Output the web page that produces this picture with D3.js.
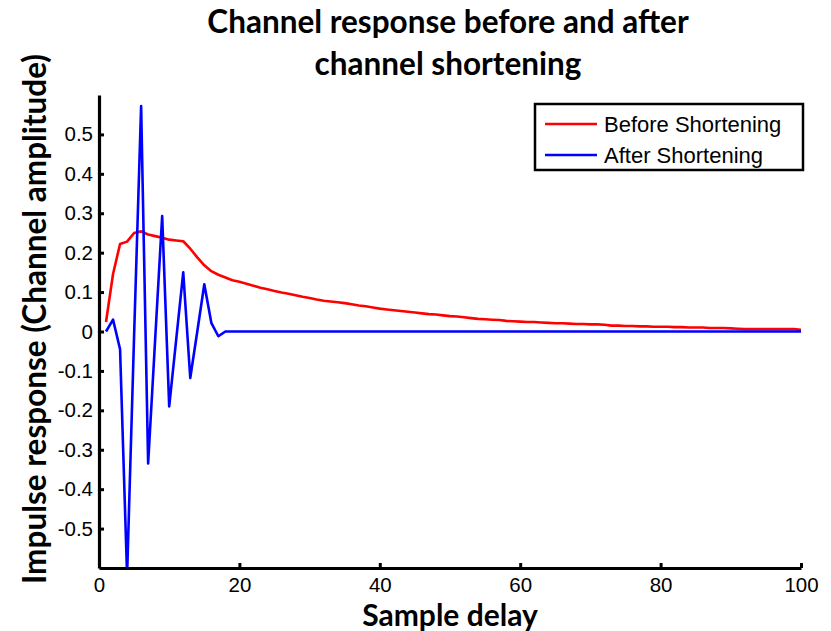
<!DOCTYPE html>
<html>
<head>
<meta charset="utf-8">
<script src="https://cdn.jsdelivr.net/npm/d3@7"></script>
<style>
  body { margin: 0; background: #fff; }
  svg { display: block; }
</style>
</head>
<body>
<div id="chart"></div>
<script>
// sample delays 1..100
const delays = d3.range(1, 101);

// before shortening
const before = [
  0.024, 0.146, 0.222, 0.228, 0.250, 0.254, 0.246, 0.242, 0.238, 0.233,
  0.231, 0.229, 0.210, 0.188, 0.168, 0.153, 0.144, 0.137, 0.130, 0.126,
  0.121, 0.116, 0.111, 0.107, 0.103, 0.099, 0.096, 0.092, 0.088, 0.085,
  0.081, 0.078, 0.076, 0.074, 0.072, 0.069, 0.066, 0.064, 0.061, 0.058,
  0.056, 0.054, 0.052, 0.050, 0.048, 0.046, 0.044, 0.043, 0.041, 0.039,
  0.038, 0.036, 0.034, 0.032, 0.031, 0.030, 0.029, 0.027, 0.026, 0.025,
  0.024, 0.024, 0.023, 0.022, 0.021, 0.021, 0.020, 0.019, 0.019, 0.018,
  0.018, 0.017, 0.015, 0.015, 0.014, 0.014, 0.013, 0.013, 0.012, 0.012,
  0.012, 0.011, 0.011, 0.010, 0.010, 0.010, 0.009, 0.009, 0.009, 0.008,
  0.007, 0.006, 0.006, 0.006, 0.006, 0.006, 0.006, 0.006, 0.006, 0.004
];

// after shortening, blue curve
const after = [
  0.000, 0.030, -0.045, -0.620, -0.010, 0.572, -0.335, -0.020, 0.293, -0.190,
  -0.020, 0.150, -0.118, 0.000, 0.120, 0.022, -0.012, 0.000, 0.000, 0.000,
  0, 0, 0, 0, 0, 0, 0, 0, 0, 0,
  0, 0, 0, 0, 0, 0, 0, 0, 0, 0,
  0, 0, 0, 0, 0, 0, 0, 0, 0, 0,
  0, 0, 0, 0, 0, 0, 0, 0, 0, 0,
  0, 0, 0, 0, 0, 0, 0, 0, 0, 0,
  0, 0, 0, 0, 0, 0, 0, 0, 0, 0,
  0, 0, 0, 0, 0, 0, 0, 0, 0, 0,
  0, 0, 0, 0, 0, 0, 0, 0, 0, 0
];

const xTicks = [0, 20, 40, 60, 80, 100];
const yTicks = [-0.5, -0.4, -0.3, -0.2, -0.1, 0, 0.1, 0.2, 0.3, 0.4, 0.5];
const yTickLabels = ["-0.5", "-0.4", "-0.3", "-0.2", "-0.1", "0", "0.1", "0.2", "0.3", "0.4", "0.5"];

const seriesNames = ["Before Shortening", "After Shortening"];
const seriesColors = ["#ff0000", "#0000ff"];

const titleLines = ["Channel response before and after", "channel shortening"];
const xTitle = "Sample delay";
const yTitle = "Impulse response (Channel amplitude)";

const width = 831, height = 631;
const margin = { left: 99, right: 30, top: 95, bottom: 63 };
const boldFont = "Lato, 'Open Sans', sans-serif";
const plainFont = "'Liberation Sans', Arial, sans-serif";

const svg = d3.select("#chart").append("svg")
  .attr("width", width)
  .attr("height", height);

const x = d3.scaleLinear().domain([0, 100]).range([margin.left, width - margin.right]);
const y = d3.scaleLinear().domain([-0.6, 0.6]).range([height - margin.bottom, margin.top]);

svg.append("clipPath").attr("id", "plotclip")
  .append("rect")
  .attr("x", margin.left)
  .attr("y", margin.top)
  .attr("width", width - margin.left - margin.right)
  .attr("height", height - margin.top - margin.bottom);

// lines
const line = d3.line()
  .x((d, i) => x(delays[i]))
  .y(d => y(d));

const plot = svg.append("g").attr("clip-path", "url(#plotclip)");
[before, after].forEach((vals, k) => {
  plot.append("path")
    .datum(vals)
    .attr("fill", "none")
    .attr("stroke", seriesColors[k])
    .attr("stroke-width", 2.6)
    .attr("stroke-linejoin", "round")
    .attr("d", line);
});

// axes, ticks pointing inward
const xAxis = svg.append("g")
  .attr("transform", `translate(0,${height - margin.bottom})`)
  .call(d3.axisBottom(x).tickValues(xTicks).tickSizeInner(-5).tickSizeOuter(0).tickPadding(9));

const yAxis = svg.append("g")
  .attr("transform", `translate(${margin.left},0)`)
  .call(d3.axisLeft(y).tickValues(yTicks).tickSizeInner(-5).tickSizeOuter(0).tickPadding(6)
    .tickFormat((d, i) => yTickLabels[i]));

[xAxis, yAxis].forEach(g => {
  g.select(".domain").attr("stroke", "#000").attr("stroke-width", 3.2);
  g.selectAll(".tick line").attr("stroke", "#000").attr("stroke-width", 3);
  g.selectAll(".tick text")
    .attr("fill", "#000")
    .style("font-family", plainFont)
    .style("font-size", "20.5px");
});
xAxis.selectAll(".tick text").attr("dy", "0.71em");

// titles
const title = svg.append("text")
  .attr("text-anchor", "middle")
  .style("font-family", boldFont)
  .style("font-weight", "bold")
  .style("font-size", "31.5px")
  .attr("fill", "#000");
titleLines.forEach((t, i) => {
  title.append("tspan").attr("x", 448).attr("y", 33 + i * 42).text(t);
});

svg.append("text")
  .attr("x", 450)
  .attr("y", 626)
  .attr("text-anchor", "middle")
  .style("font-family", boldFont)
  .style("font-weight", "bold")
  .style("font-size", "30px")
  .text(xTitle);

svg.append("text")
  .attr("transform", "translate(46,319) rotate(-90)")
  .attr("text-anchor", "middle")
  .style("font-family", boldFont)
  .style("font-weight", "bold")
  .style("font-size", "31.5px")
  .text(yTitle);

// legend
const legend = svg.append("g").attr("transform", "translate(535,104)");
legend.append("rect")
  .attr("width", 268)
  .attr("height", 66)
  .attr("fill", "#fff")
  .attr("stroke", "#000")
  .attr("stroke-width", 2.5);

seriesNames.forEach((name, i) => {
  const row = legend.append("g").attr("transform", `translate(0,${20 + i * 31})`);
  row.append("line")
    .attr("x1", 10).attr("x2", 62)
    .attr("stroke", seriesColors[i])
    .attr("stroke-width", 2.6);
  row.append("text")
    .attr("x", 69)
    .attr("dy", "0.36em")
    .style("font-family", plainFont)
    .style("font-size", "22px")
    .text(name);
});
</script>
</body>
</html>
